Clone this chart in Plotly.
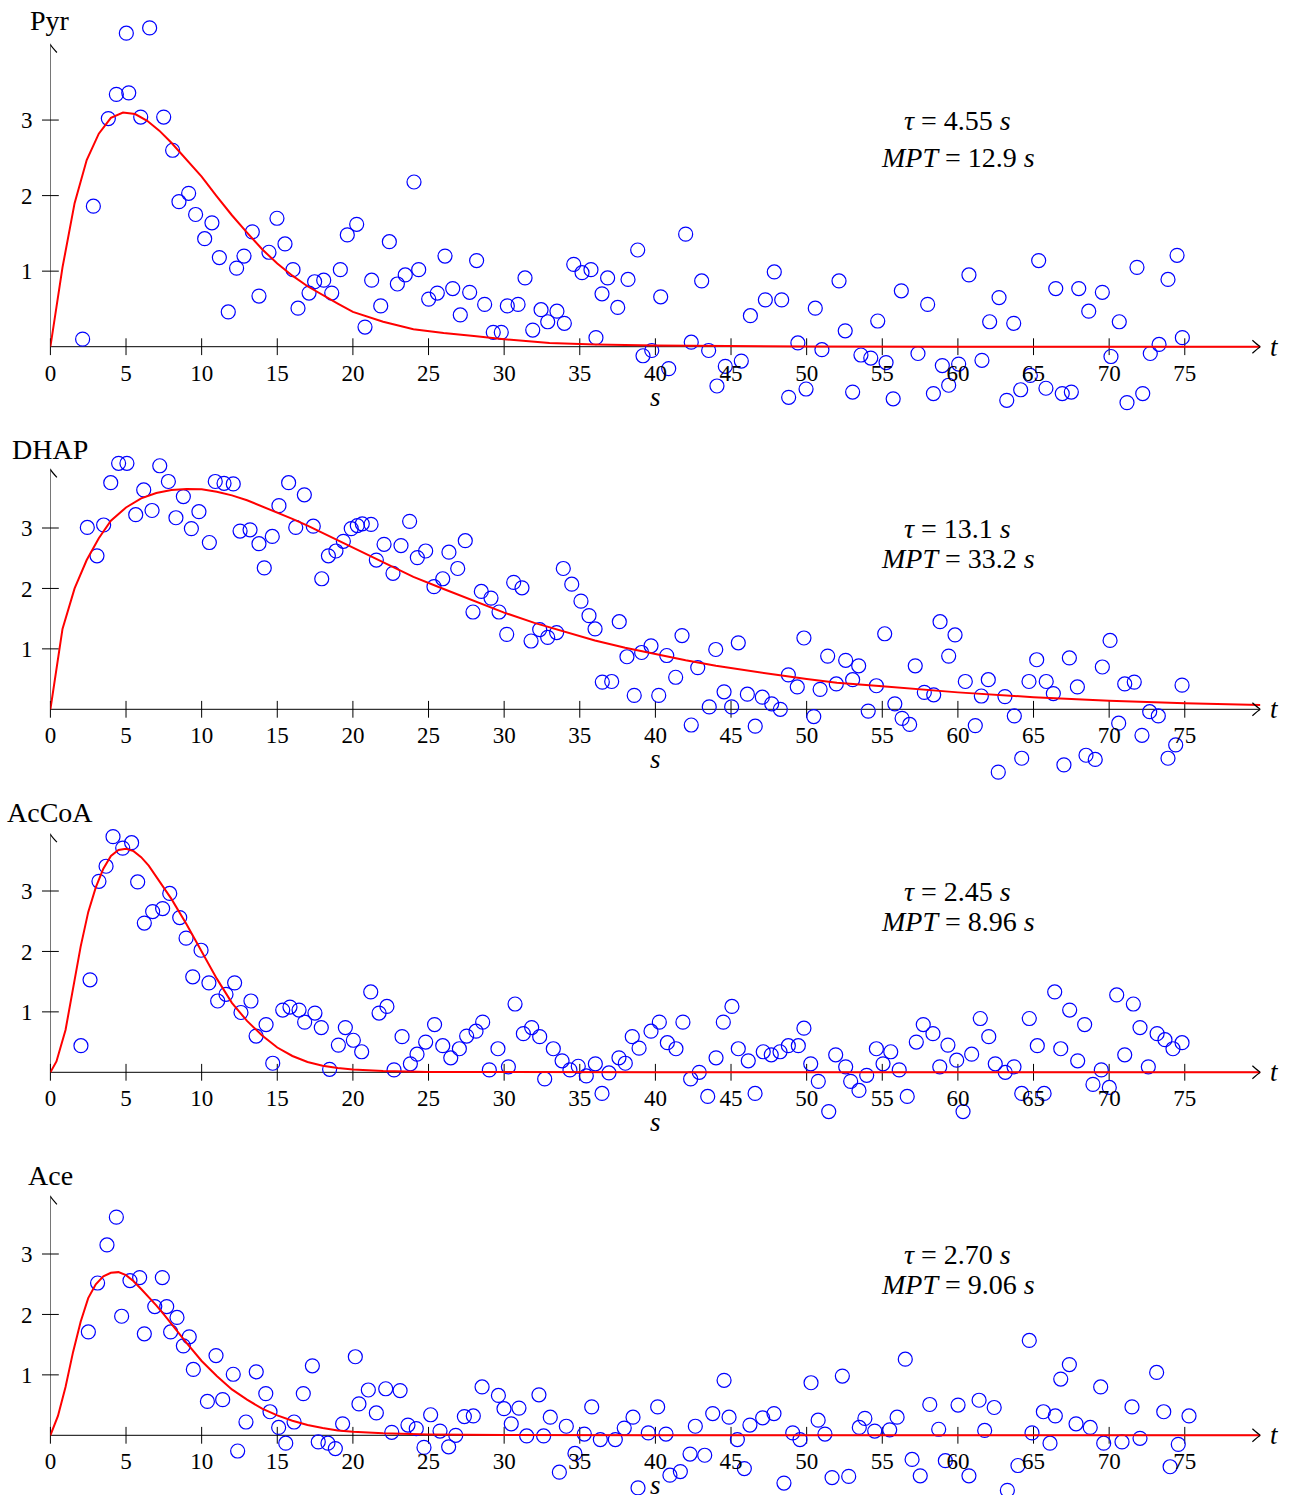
import plotly.graph_objects as go

# ---------------- data ----------------
pyr_t = [2.13, 2.84, 3.83, 4.36, 5.02, 5.18, 5.97, 6.56, 7.49, 8.08, 8.50, 9.14, 9.60, 10.20, 10.68, 11.17, 11.76, 12.31, 12.80, 13.35,
         13.79, 14.45, 14.98, 15.51, 16.04, 16.37, 17.10, 17.47, 18.07, 18.60, 19.17, 19.63, 20.25, 20.80, 21.24, 21.84, 22.41, 22.94, 23.46, 24.04,
         24.35, 25.01, 25.58, 26.09, 26.60, 27.10, 27.72, 28.18, 28.71, 29.28, 29.81, 30.21, 30.92, 31.38, 31.89, 32.44, 32.88, 33.49, 33.98, 34.60,
         35.15, 35.74, 36.07, 36.47, 36.84, 37.51, 38.19, 38.83, 39.18, 39.76, 40.35, 40.88, 42.00, 42.37, 43.06, 43.52, 44.07, 44.62, 45.68, 46.28,
         47.27, 47.86, 48.35, 48.81, 49.42, 49.96, 50.57, 51.01, 52.14, 52.55, 53.04, 53.59, 54.24, 54.70, 55.25, 55.72, 56.26, 57.36, 58.00, 58.38,
         58.97, 59.39, 60.05, 60.73, 61.59, 62.10, 62.72, 63.23, 63.69, 64.15, 64.79, 65.34, 65.82, 66.47, 66.90, 67.50, 67.99, 68.65, 69.55, 70.12,
         70.67, 71.18, 71.84, 72.22, 72.72, 73.30, 73.89, 74.49, 74.84]
pyr_v = [0.10, 1.86, 3.02, 3.34, 4.15, 3.36, 3.04, 4.22, 3.04, 2.60, 1.92, 2.03, 1.75, 1.43, 1.64, 1.18, 0.46, 1.04, 1.20, 1.52,
         0.67, 1.25, 1.70, 1.36, 1.02, 0.51, 0.71, 0.86, 0.88, 0.71, 1.02, 1.48, 1.62, 0.26, 0.88, 0.54, 1.39, 0.83, 0.95, 2.18,
         1.02, 0.63, 0.71, 1.20, 0.77, 0.42, 0.72, 1.14, 0.56, 0.19, 0.19, 0.54, 0.56, 0.91, 0.22, 0.49, 0.33, 0.47, 0.31, 1.09,
         0.98, 1.02, 0.12, 0.70, 0.91, 0.52, 0.89, 1.28, -0.12, -0.05, 0.66, -0.29, 1.49, 0.06, 0.87, -0.05, -0.52, -0.26, -0.19, 0.41,
         0.62, 0.99, 0.62, -0.67, 0.05, -0.56, 0.51, -0.04, 0.87, 0.21, -0.60, -0.11, -0.15, 0.34, -0.21, -0.69, 0.74, -0.09, 0.56, -0.62,
         -0.25, -0.51, -0.23, 0.95, -0.18, 0.33, 0.65, -0.71, 0.31, -0.57, -0.38, 1.14, -0.55, 0.77, -0.62, -0.60, 0.77, 0.47, 0.72, -0.13,
         0.33, -0.74, 1.05, -0.62, -0.09, 0.03, 0.89, 1.21, 0.12]
pyr_fit_t = [0, 0.8, 1.6, 2.4, 3.2, 4, 4.8, 5.6, 6.4, 7.2, 8, 9, 10, 11, 12, 13, 14, 15, 16, 17, 18, 19, 20,
             22, 24, 26, 28, 30, 33, 36, 40, 45, 50, 60, 70, 80]
pyr_fit_v = [0, 1.05, 1.90, 2.47, 2.82, 3.03, 3.10, 3.08, 2.99, 2.86, 2.70, 2.48, 2.25, 1.99, 1.74, 1.51, 1.29, 1.10, 0.94, 0.80, 0.68, 0.57, 0.46,
             0.33, 0.23, 0.18, 0.14, 0.10, 0.05, 0.03, 0.015, 0.006, 0.003, 0.0005, 0, 0]

dhap_t = [2.44, 3.08, 3.52, 3.99, 4.51, 5.06, 5.64, 6.17, 6.72, 7.23, 7.80, 8.30, 8.79, 9.32, 9.82, 10.51, 10.90, 11.48, 12.09, 12.54,
          13.20, 13.79, 14.14, 14.67, 15.11, 15.75, 16.22, 16.79, 17.38, 17.94, 18.38, 18.88, 19.37, 19.89, 20.29, 20.62, 21.20, 21.55, 22.06, 22.65,
          23.18, 23.75, 24.26, 24.81, 25.36, 25.94, 26.35, 26.93, 27.43, 27.94, 28.49, 29.13, 29.66, 30.17, 30.63, 31.18, 31.78, 32.35, 32.88, 33.47,
          33.91, 34.47, 35.08, 35.61, 36.01, 36.49, 37.11, 37.61, 38.12, 38.60, 39.09, 39.71, 40.22, 40.75, 41.34, 41.76, 42.37, 42.80, 43.56, 43.99,
          44.54, 45.04, 45.48, 46.08, 46.60, 47.07, 47.69, 48.26, 48.79, 49.38, 49.82, 50.47, 50.89, 51.39, 51.96, 52.58, 53.04, 53.44, 54.07, 54.61,
          55.16, 55.83, 56.31, 56.81, 57.18, 57.78, 58.40, 58.82, 59.39, 59.81, 60.49, 61.15, 61.55, 62.01, 62.67, 63.11, 63.73, 64.22, 64.70, 65.21,
          65.84, 66.31, 67.01, 67.37, 67.90, 68.47, 69.08, 69.55, 70.06, 70.63, 71.03, 71.66, 72.17, 72.68, 73.25, 73.89, 74.40, 74.82]
dhap_v = [3.01, 2.54, 3.05, 3.75, 4.07, 4.07, 3.22, 3.63, 3.29, 4.03, 3.77, 3.17, 3.52, 2.99, 3.27, 2.76, 3.77, 3.74, 3.73, 2.95,
          2.97, 2.74, 2.34, 2.86, 3.37, 3.75, 3.01, 3.55, 3.03, 2.16, 2.54, 2.62, 2.78, 2.99, 3.04, 3.07, 3.06, 2.47, 2.73, 2.25,
          2.71, 3.11, 2.51, 2.62, 2.03, 2.16, 2.60, 2.33, 2.79, 1.61, 1.95, 1.84, 1.61, 1.24, 2.10, 2.01, 1.13, 1.32, 1.19, 1.27,
          2.33, 2.07, 1.79, 1.55, 1.33, 0.45, 0.46, 1.45, 0.87, 0.23, 0.94, 1.05, 0.23, 0.89, 0.53, 1.22, -0.26, 0.69, 0.04, 0.99,
          0.29, 0.04, 1.10, 0.25, -0.28, 0.20, 0.09, 0.00, 0.57, 0.37, 1.18, -0.12, 0.33, 0.88, 0.42, 0.81, 0.49, 0.72, -0.03, 0.39,
          1.25, 0.09, -0.15, -0.25, 0.72, 0.28, 0.24, 1.45, 0.88, 1.23, 0.46, -0.27, 0.22, 0.49, -1.04, 0.21, -0.11, -0.81, 0.46, 0.82,
          0.46, 0.26, -0.92, 0.85, 0.37, -0.76, -0.83, 0.70, 1.14, -0.23, 0.42, 0.45, -0.43, -0.04, -0.11, -0.81, -0.59, 0.40]
dhap_fit_t = [0, 0.8, 1.6, 2.4, 3.2, 4, 5, 6, 7, 8, 9, 10, 11, 12, 13, 14, 15, 16, 17, 18, 19, 20,
              22, 24, 26, 28, 30, 32, 34, 36, 38, 40, 42, 44, 46, 48, 50, 52, 55, 60, 65, 70, 75, 80]
dhap_fit_v = [0, 1.33, 2.00, 2.47, 2.83, 3.12, 3.34, 3.49, 3.58, 3.63, 3.645, 3.64, 3.60, 3.54, 3.46, 3.36, 3.26, 3.15, 3.04, 2.92, 2.80, 2.68,
              2.43, 2.19, 1.99, 1.79, 1.60, 1.43, 1.28, 1.14, 1.02, 0.91, 0.81, 0.72, 0.64, 0.57, 0.50, 0.44, 0.38, 0.28, 0.20, 0.14, 0.10, 0.07]

accoa_t = [2.02, 2.62, 3.21, 3.68, 4.14, 4.78, 5.37, 5.77, 6.21, 6.76, 7.42, 7.89, 8.55, 8.97, 9.41, 9.96, 10.48, 11.06, 11.61, 12.18,
           12.60, 13.26, 13.60, 14.26, 14.70, 15.36, 15.84, 16.44, 16.81, 17.49, 17.91, 18.46, 19.04, 19.50, 20.03, 20.58, 21.18, 21.73, 22.25, 22.72,
           23.25, 23.80, 24.24, 24.81, 25.40, 25.94, 26.47, 27.04, 27.52, 28.14, 28.58, 29.02, 29.59, 30.28, 30.72, 31.27, 31.82, 32.35, 32.68, 33.25,
           33.83, 34.35, 34.90, 35.43, 36.03, 36.47, 36.93, 37.59, 38.01, 38.47, 38.92, 39.71, 40.26, 40.79, 41.36, 41.82, 42.33, 42.90, 43.46, 44.01,
           44.49, 45.06, 45.48, 46.14, 46.59, 47.13, 47.66, 48.24, 48.79, 49.45, 49.82, 50.27, 50.77, 51.46, 51.92, 52.58, 52.91, 53.46, 53.97, 54.61,
           55.05, 55.56, 56.12, 56.65, 57.25, 57.71, 58.35, 58.80, 59.34, 59.92, 60.34, 60.91, 61.48, 62.04, 62.47, 63.13, 63.71, 64.22, 64.72, 65.25,
           65.70, 66.40, 66.80, 67.39, 67.92, 68.38, 68.93, 69.48, 70.01, 70.50, 71.03, 71.60, 72.04, 72.59, 73.17, 73.69, 74.22, 74.82]
accoa_v = [0.44, 1.53, 3.16, 3.41, 3.90, 3.71, 3.80, 3.15, 2.47, 2.66, 2.71, 2.96, 2.56, 2.22, 1.58, 2.02, 1.48, 1.18, 1.29, 1.48,
           0.99, 1.18, 0.60, 0.79, 0.15, 1.03, 1.08, 1.03, 0.83, 0.98, 0.74, 0.05, 0.45, 0.74, 0.53, 0.34, 1.33, 0.98, 1.09, 0.04,
           0.59, 0.14, 0.30, 0.50, 0.79, 0.44, 0.24, 0.39, 0.60, 0.68, 0.83, 0.04, 0.39, 0.09, 1.13, 0.64, 0.74, 0.59, -0.11, 0.39,
           0.19, 0.04, 0.10, -0.06, 0.14, -0.35, -0.01, 0.24, 0.15, 0.59, 0.40, 0.68, 0.83, 0.49, 0.39, 0.83, -0.11, 0.00, -0.40, 0.24,
           0.83, 1.09, 0.39, 0.19, -0.35, 0.34, 0.29, 0.34, 0.44, 0.44, 0.73, 0.14, -0.15, -0.65, 0.29, 0.09, -0.15, -0.30, -0.05, 0.39,
           0.14, 0.34, 0.04, -0.40, 0.50, 0.79, 0.64, 0.09, 0.45, 0.20, -0.65, 0.30, 0.89, 0.59, 0.14, 0.00, 0.09, -0.35, 0.89, 0.44,
           -0.35, 1.33, 0.39, 1.03, 0.19, 0.79, -0.20, 0.04, -0.25, 1.28, 0.29, 1.13, 0.74, 0.09, 0.64, 0.54, 0.39, 0.49]
accoa_fit_t = [0, 0.4, 1, 1.5, 2, 2.5, 3, 3.5, 4, 4.5, 5, 5.5, 6, 6.5, 7, 7.5, 8, 9, 10, 11, 12, 13, 14, 15, 16,
               17, 18, 19, 20, 22, 25, 30, 40, 80]
accoa_fit_v = [0, 0.18, 0.70, 1.37, 2.08, 2.65, 3.06, 3.37, 3.58, 3.68, 3.70, 3.66, 3.56, 3.42, 3.24, 3.06, 2.87, 2.45, 2.01, 1.55, 1.15, 0.85, 0.61, 0.41, 0.27,
               0.17, 0.11, 0.07, 0.045, 0.02, 0.005, 0.001, 0, 0]

ace_t = [2.51, 3.12, 3.74, 4.36, 4.71, 5.26, 5.90, 6.21, 6.90, 7.40, 7.69, 7.95, 8.37, 8.79, 9.18, 9.45, 10.38, 10.95, 11.39, 12.09,
         12.38, 12.93, 13.61, 14.24, 14.52, 15.09, 15.56, 16.11, 16.72, 17.32, 17.71, 18.35, 18.84, 19.32, 20.16, 20.40, 21.02, 21.55, 22.17, 22.57,
         23.12, 23.64, 24.19, 24.70, 25.14, 25.76, 26.33, 26.80, 27.37, 27.96, 28.54, 29.62, 29.99, 30.47, 30.98, 31.49, 32.30, 32.61, 33.05, 33.65,
         34.11, 34.68, 35.30, 35.79, 36.36, 37.35, 37.94, 38.52, 38.85, 39.53, 40.15, 40.70, 40.96, 41.65, 42.29, 42.64, 43.26, 43.79, 44.54, 44.87,
         45.42, 45.88, 46.25, 47.09, 47.84, 48.50, 49.08, 49.56, 50.29, 50.76, 51.21, 51.68, 52.36, 52.78, 53.48, 53.85, 54.50, 55.49, 55.98, 56.52,
         56.97, 57.51, 58.14, 58.73, 59.17, 60.01, 60.73, 61.40, 61.77, 62.40, 63.27, 63.97, 64.72, 64.90, 65.65, 66.09, 66.44, 66.80, 67.37, 67.81,
         68.75, 69.44, 69.64, 70.85, 71.51, 72.04, 73.14, 73.61, 74.03, 74.57, 75.28]
ace_v = [1.71, 2.52, 3.15, 3.61, 1.97, 2.56, 2.61, 1.68, 2.13, 2.61, 2.13, 1.71, 1.95, 1.48, 1.63, 1.09, 0.56, 1.32, 0.59, 1.01,
         -0.26, 0.22, 1.05, 0.69, 0.39, 0.13, -0.13, 0.22, 0.69, 1.15, -0.11, -0.13, -0.22, 0.19, 1.30, 0.52, 0.75, 0.37, 0.77, 0.05,
         0.74, 0.17, 0.11, -0.20, 0.34, 0.07, -0.19, 0.00, 0.31, 0.32, 0.80, 0.66, 0.44, 0.19, 0.45, -0.01, 0.67, -0.01, 0.30, -0.61,
         0.15, -0.30, 0.02, 0.47, -0.07, -0.07, 0.12, 0.30, -0.87, 0.04, 0.47, 0.02, -0.66, -0.60, -0.31, 0.15, -0.33, 0.36, 0.91, 0.30,
         -0.07, -0.55, 0.17, 0.29, 0.36, -0.79, 0.04, -0.07, 0.87, 0.25, 0.02, -0.70, 0.98, -0.68, 0.13, 0.28, 0.07, 0.09, 0.30, 1.26,
         -0.40, -0.67, 0.51, 0.10, -0.42, 0.50, -0.67, 0.58, 0.08, 0.46, -0.91, -0.50, 1.57, 0.04, 0.39, -0.13, 0.32, 0.93, 1.17, 0.19,
         0.13, 0.80, -0.13, -0.11, 0.47, -0.05, 1.04, 0.39, -0.52, -0.15, 0.32]
ace_fit_t = [0, 0.5, 1, 1.5, 2, 2.5, 3, 3.5, 4, 4.5, 5, 5.5, 6, 6.5, 7, 7.5, 8, 9, 10, 11, 12, 13, 14, 15, 16,
             17, 18, 19, 20, 22, 25, 30, 40, 80]
ace_fit_v = [0, 0.32, 0.80, 1.38, 1.88, 2.27, 2.50, 2.63, 2.69, 2.70, 2.65, 2.55, 2.42, 2.29, 2.15, 2.00, 1.84, 1.53, 1.23, 0.98, 0.76, 0.59, 0.44, 0.33, 0.24,
             0.17, 0.12, 0.08, 0.06, 0.035, 0.015, 0.004, 0, 0]

names = ["Pyr", "DHAP", "AcCoA", "Ace"]
tau_labels = ["4.55", "13.1", "2.45", "2.70"]
mpt_labels = ["12.9", "33.2", "8.96", "9.06"]
x_ticks = [0, 5, 10, 15, 20, 25, 30, 35, 40, 45, 50, 55, 60, 65, 70, 75]
y_ticks = [1, 2, 3]

# ---------------- layout geometry (pixels) ----------------
W, H = 1298, 1495
X0PX, XSCALE, XMAX = 50.4, 15.125, 80
YMAX = 4.4   # plotting range top (the drawn axis stops at ytop)
panels = [
    dict(t=pyr_t, v=pyr_v, ft=pyr_fit_t, fv=pyr_fit_v, y0px=346.7, scale=75.55, ytop=4.0, ymin=-1.1, tshift=24),
    dict(t=dhap_t, v=dhap_v, ft=dhap_fit_t, fv=dhap_fit_v, y0px=709.3, scale=60.43, ytop=3.97, ymin=-1.15, tshift=20),
    dict(t=accoa_t, v=accoa_v, ft=accoa_fit_t, fv=accoa_fit_v, y0px=1072.3, scale=60.43, ytop=3.94, ymin=-1.1, tshift=22),
    dict(t=ace_t, v=ace_v, ft=ace_fit_t, fv=ace_fit_v, y0px=1435.3, scale=60.43, ytop=3.955, ymin=-0.97, tshift=21),
]

FONT = "Liberation Serif"
fig = go.Figure()
shapes, annotations = [], []
layout = dict(width=W, height=H, margin=dict(l=0, r=0, t=0, b=0, autoexpand=False), showlegend=False,
              plot_bgcolor="rgba(0,0,0,0)", paper_bgcolor="white")

for i, p in enumerate(panels, start=1):
    xr = "x" if i == 1 else f"x{i}"
    yr = "y" if i == 1 else f"y{i}"
    xa = "xaxis" if i == 1 else f"xaxis{i}"
    ya = "yaxis" if i == 1 else f"yaxis{i}"
    dom_bottom = 1 - (p["y0px"] - p["ymin"] * p["scale"]) / H
    dom_top = 1 - (p["y0px"] - YMAX * p["scale"]) / H
    layout[xa] = dict(domain=[X0PX / W, (X0PX + XMAX * XSCALE) / W], range=[0, XMAX],
                      anchor="free", position=1 - p["y0px"] / H, automargin=False,
                      showline=False, showgrid=False, zeroline=False,
                      tickvals=x_ticks, ticktext=[str(v) for v in x_ticks], ticks="", ticklabelstandoff=10,
                      tickfont=dict(family=FONT, size=23, color="black"), fixedrange=True)
    layout[ya] = dict(domain=[dom_bottom, dom_top], range=[p["ymin"], YMAX], anchor=xr, automargin=False,
                      showline=False, showgrid=False, zeroline=False,
                      tickvals=y_ticks, ticktext=[str(v) for v in y_ticks], ticks="", ticklabelstandoff=17,
                      tickfont=dict(family=FONT, size=23, color="black"), fixedrange=True)

    # axis lines (drawn under the traces)
    shapes.append(dict(type="line", xref=xr, yref=yr, x0=0, x1=XMAX, y0=0, y1=0, layer="below",
                       line=dict(color="black", width=1)))
    shapes.append(dict(type="line", xref=xr, yref=yr, x0=0, x1=0, y0=0, y1=p["ytop"], layer="below",
                       line=dict(color="black", width=1)))
    # arrow heads
    shapes.append(dict(type="path", xref=xr, yref=yr, xsizemode="pixel", ysizemode="pixel",
                       xanchor=XMAX, yanchor=0, path="M -8 6.5 Q -2.5 1.5 0 0 Q -2.5 -1.5 -8 -6.5",
                       line=dict(color="black", width=1.2)))
    shapes.append(dict(type="path", xref=xr, yref=yr, xsizemode="pixel", ysizemode="pixel",
                       xanchor=0, yanchor=p["ytop"], path="M -6.5 -8 Q -1.5 -2.5 0 0 Q 1.5 -2.5 6.5 -8",
                       line=dict(color="black", width=1.2)))

    # tick crosses
    fig.add_trace(go.Scatter(x=x_ticks, y=[0] * len(x_ticks), xaxis=xr, yaxis=yr, mode="markers",
                             marker=dict(symbol="line-ns", size=12, line=dict(width=1, color="black")),
                             cliponaxis=False, hoverinfo="skip"))
    fig.add_trace(go.Scatter(x=[0] * len(y_ticks), y=y_ticks, xaxis=xr, yaxis=yr, mode="markers",
                             marker=dict(symbol="line-ew", size=12, line=dict(width=1, color="black")),
                             cliponaxis=False, hoverinfo="skip"))
    # data points
    fig.add_trace(go.Scatter(x=p["t"], y=p["v"], xaxis=xr, yaxis=yr, mode="markers",
                             marker=dict(symbol="circle-open", size=14, color="#0000ff",
                                         line=dict(width=1.2, color="#0000ff")),
                             cliponaxis=False))
    # fitted curve
    fig.add_trace(go.Scatter(x=p["ft"], y=p["fv"], xaxis=xr, yaxis=yr, mode="lines",
                             line=dict(color="#ff0000", width=2), cliponaxis=False))

    # labels
    annotations.append(dict(xref=xr, yref=yr, x=0, y=p["ytop"], yshift=p["tshift"], text=names[i - 1],
                            showarrow=False, xanchor="center", yanchor="middle",
                            font=dict(family=FONT, size=28, color="black")))
    annotations.append(dict(xref=xr, yref=yr, x=XMAX, y=0, xshift=8, text="<i>t</i>", showarrow=False,
                            xanchor="left", yanchor="middle", font=dict(family=FONT, size=27, color="black")))
    annotations.append(dict(xref=xr, yref=yr, x=40, y=0, yshift=-50, text="<i>s</i>", showarrow=False,
                            xanchor="center", yanchor="middle", font=dict(family=FONT, size=27, color="black")))
    annotations.append(dict(xref=xr, yref=yr, x=60, y=3.0, text=f"<i>τ</i> = {tau_labels[i - 1]} <i>s</i>",
                            showarrow=False, xanchor="center", yanchor="middle",
                            font=dict(family=FONT, size=28, color="black")))
    annotations.append(dict(xref=xr, yref=yr, x=60, y=2.5, text=f"<i>MPT</i> = {mpt_labels[i - 1]} <i>s</i>",
                            showarrow=False, xanchor="center", yanchor="middle",
                            font=dict(family=FONT, size=28, color="black")))

layout["shapes"] = shapes
layout["annotations"] = annotations
fig.update_layout(**layout)

fig.write_html("out.html", config={"displayModeBar": False},
               post_script="document.body.style.margin='0';")
